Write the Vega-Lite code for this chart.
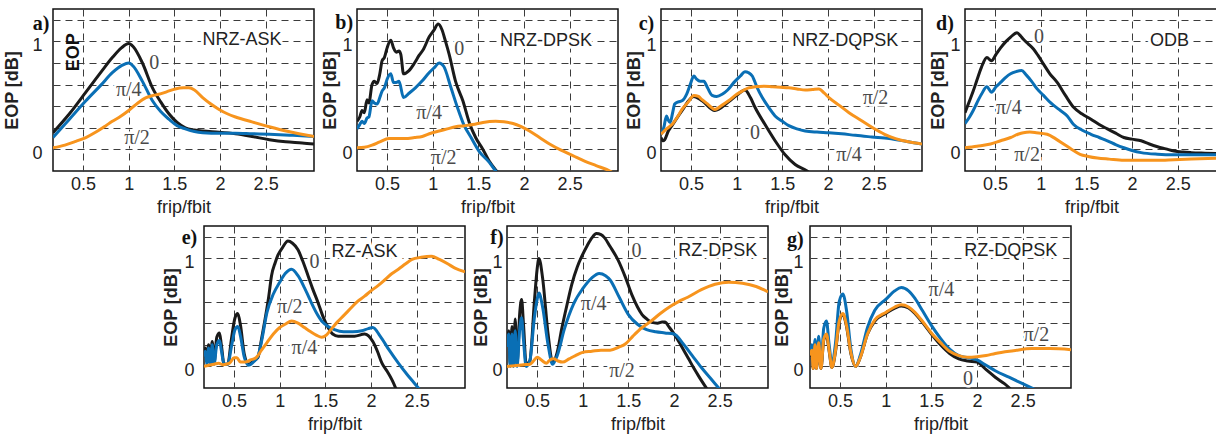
{
"$schema": "https://vega.github.io/schema/vega-lite/v6.json",
"padding": {"left": 3, "top": 8, "right": 0, "bottom": 0},
"spacing": 8,
"vconcat": [
{"spacing": 43, "bounds": "flush", "hconcat": [
{"width": 261, "height": 162,
 "encoding": {
  "x": {"field": "x", "type": "quantitative", "scale": {"domain": [0.17, 3.03], "nice": false, "zero": false}, "axis": {"title": "frip/fbit", "values": [0.5, 1, 1.5, 2, 2.5]}},
  "y": {"field": "y", "type": "quantitative", "scale": {"domain": [-0.2, 1.3], "nice": false, "zero": false}, "axis": {"title": "EOP [dB]", "values": [0, 0.2, 0.4, 0.6, 0.8, 1, 1.2], "labelPadding": 11, "titlePadding": 10}}},
 "layer": [
  {"data": {"name": "labels"}, "transform": [{"filter": "datum.p == 'a' && datum.k == 'name'"}], "mark": {"type": "text", "font": "Liberation Sans", "fontSize": 18, "color": "white", "stroke": "white", "strokeWidth": 6}, "encoding": {"text": {"field": "t"}}},
  {"data": {"name": "labels"}, "transform": [{"filter": "datum.p == 'a' && datum.k == 'curve'"}], "mark": {"type": "text", "font": "Liberation Serif", "fontSize": 20, "color": "white", "stroke": "white", "strokeWidth": 5}, "encoding": {"text": {"field": "t"}}},
  {"data": {"name": "a"}, "mark": {"type": "line", "clip": true, "strokeWidth": 3, "interpolate": "monotone", "strokeJoin": "round"}, "encoding": {"color": {"field": "s", "type": "nominal", "scale": {"domain": ["0", "π/4", "π/2"], "range": ["#1a1a1a", "#0a6fb5", "#f7941d"]}, "legend": null}}},
  {"data": {"name": "labels"}, "transform": [{"filter": "datum.p == 'a' && datum.k == 'name'"}], "mark": {"type": "text", "font": "Liberation Sans", "fontSize": 18, "color": "#222"}, "encoding": {"text": {"field": "t"}}},
  {"data": {"name": "labels"}, "transform": [{"filter": "datum.p == 'a' && datum.k == 'curve'"}], "mark": {"type": "text", "font": "Liberation Serif", "fontSize": 20, "color": "#4a4a4a"}, "encoding": {"text": {"field": "t"}}},
  {"data": {"name": "labels"}, "transform": [{"filter": "datum.p == 'a' && datum.k == 'panel'"}], "mark": {"type": "text", "font": "Liberation Serif", "fontSize": 20, "fontWeight": "bold", "color": "#111"}, "encoding": {"text": {"field": "t"}}},
  {"data": {"name": "labels"}, "transform": [{"filter": "datum.p == 'a' && datum.k == 'eop'"}], "mark": {"type": "text", "font": "Liberation Sans", "fontSize": 18, "fontWeight": "bold", "angle": 270, "color": "#111"}, "encoding": {"text": {"field": "t"}}}
 ]},
{"width": 261, "height": 162,
 "encoding": {
  "x": {"field": "x", "type": "quantitative", "scale": {"domain": [0.17, 3.03], "nice": false, "zero": false}, "axis": {"title": "frip/fbit", "values": [0.5, 1, 1.5, 2, 2.5]}},
  "y": {"field": "y", "type": "quantitative", "scale": {"domain": [-0.2, 1.3], "nice": false, "zero": false}, "axis": {"title": "EOP [dB]", "values": [0, 0.2, 0.4, 0.6, 0.8, 1, 1.2], "labelPadding": 5, "titlePadding": 2}}},
 "layer": [
  {"data": {"name": "labels"}, "transform": [{"filter": "datum.p == 'b' && datum.k == 'name'"}], "mark": {"type": "text", "font": "Liberation Sans", "fontSize": 18, "color": "white", "stroke": "white", "strokeWidth": 6}, "encoding": {"text": {"field": "t"}}},
  {"data": {"name": "labels"}, "transform": [{"filter": "datum.p == 'b' && datum.k == 'curve'"}], "mark": {"type": "text", "font": "Liberation Serif", "fontSize": 20, "color": "white", "stroke": "white", "strokeWidth": 5}, "encoding": {"text": {"field": "t"}}},
  {"data": {"name": "b"}, "mark": {"type": "line", "clip": true, "strokeWidth": 3, "interpolate": "monotone", "strokeJoin": "round"}, "encoding": {"color": {"field": "s", "type": "nominal", "scale": {"domain": ["0", "π/4", "π/2"], "range": ["#1a1a1a", "#0a6fb5", "#f7941d"]}, "legend": null}}},
  {"data": {"name": "labels"}, "transform": [{"filter": "datum.p == 'b' && datum.k == 'name'"}], "mark": {"type": "text", "font": "Liberation Sans", "fontSize": 18, "color": "#222"}, "encoding": {"text": {"field": "t"}}},
  {"data": {"name": "labels"}, "transform": [{"filter": "datum.p == 'b' && datum.k == 'curve'"}], "mark": {"type": "text", "font": "Liberation Serif", "fontSize": 20, "color": "#4a4a4a"}, "encoding": {"text": {"field": "t"}}},
  {"data": {"name": "labels"}, "transform": [{"filter": "datum.p == 'b' && datum.k == 'panel'"}], "mark": {"type": "text", "font": "Liberation Serif", "fontSize": 20, "fontWeight": "bold", "color": "#111"}, "encoding": {"text": {"field": "t"}}}
 ]},
{"width": 261, "height": 162,
 "encoding": {
  "x": {"field": "x", "type": "quantitative", "scale": {"domain": [0.17, 3.03], "nice": false, "zero": false}, "axis": {"title": "frip/fbit", "values": [0.5, 1, 1.5, 2, 2.5]}},
  "y": {"field": "y", "type": "quantitative", "scale": {"domain": [-0.2, 1.3], "nice": false, "zero": false}, "axis": {"title": "EOP [dB]", "values": [0, 0.2, 0.4, 0.6, 0.8, 1, 1.2], "labelPadding": 5, "titlePadding": 2}}},
 "layer": [
  {"data": {"name": "labels"}, "transform": [{"filter": "datum.p == 'c' && datum.k == 'name'"}], "mark": {"type": "text", "font": "Liberation Sans", "fontSize": 18, "color": "white", "stroke": "white", "strokeWidth": 6}, "encoding": {"text": {"field": "t"}}},
  {"data": {"name": "labels"}, "transform": [{"filter": "datum.p == 'c' && datum.k == 'curve'"}], "mark": {"type": "text", "font": "Liberation Serif", "fontSize": 20, "color": "white", "stroke": "white", "strokeWidth": 5}, "encoding": {"text": {"field": "t"}}},
  {"data": {"name": "c"}, "mark": {"type": "line", "clip": true, "strokeWidth": 3, "interpolate": "monotone", "strokeJoin": "round"}, "encoding": {"color": {"field": "s", "type": "nominal", "scale": {"domain": ["0", "π/4", "π/2"], "range": ["#1a1a1a", "#0a6fb5", "#f7941d"]}, "legend": null}}},
  {"data": {"name": "labels"}, "transform": [{"filter": "datum.p == 'c' && datum.k == 'name'"}], "mark": {"type": "text", "font": "Liberation Sans", "fontSize": 18, "color": "#222"}, "encoding": {"text": {"field": "t"}}},
  {"data": {"name": "labels"}, "transform": [{"filter": "datum.p == 'c' && datum.k == 'curve'"}], "mark": {"type": "text", "font": "Liberation Serif", "fontSize": 20, "color": "#4a4a4a"}, "encoding": {"text": {"field": "t"}}},
  {"data": {"name": "labels"}, "transform": [{"filter": "datum.p == 'c' && datum.k == 'panel'"}], "mark": {"type": "text", "font": "Liberation Serif", "fontSize": 20, "fontWeight": "bold", "color": "#111"}, "encoding": {"text": {"field": "t"}}}
 ]},
{"width": 253, "height": 162,
 "encoding": {
  "x": {"field": "x", "type": "quantitative", "scale": {"domain": [0.17, 2.942], "nice": false, "zero": false}, "axis": {"title": "frip/fbit", "values": [0.5, 1, 1.5, 2, 2.5]}},
  "y": {"field": "y", "type": "quantitative", "scale": {"domain": [-0.2, 1.3], "nice": false, "zero": false}, "axis": {"title": "EOP [dB]", "values": [0, 0.2, 0.4, 0.6, 0.8, 1, 1.2], "labelPadding": 5, "titlePadding": 2}}},
 "layer": [
  {"data": {"name": "labels"}, "transform": [{"filter": "datum.p == 'd' && datum.k == 'name'"}], "mark": {"type": "text", "font": "Liberation Sans", "fontSize": 18, "color": "white", "stroke": "white", "strokeWidth": 6}, "encoding": {"text": {"field": "t"}}},
  {"data": {"name": "labels"}, "transform": [{"filter": "datum.p == 'd' && datum.k == 'curve'"}], "mark": {"type": "text", "font": "Liberation Serif", "fontSize": 20, "color": "white", "stroke": "white", "strokeWidth": 5}, "encoding": {"text": {"field": "t"}}},
  {"data": {"name": "d"}, "mark": {"type": "line", "clip": true, "strokeWidth": 3, "interpolate": "monotone", "strokeJoin": "round"}, "encoding": {"color": {"field": "s", "type": "nominal", "scale": {"domain": ["0", "π/4", "π/2"], "range": ["#1a1a1a", "#0a6fb5", "#f7941d"]}, "legend": null}}},
  {"data": {"name": "labels"}, "transform": [{"filter": "datum.p == 'd' && datum.k == 'name'"}], "mark": {"type": "text", "font": "Liberation Sans", "fontSize": 18, "color": "#222"}, "encoding": {"text": {"field": "t"}}},
  {"data": {"name": "labels"}, "transform": [{"filter": "datum.p == 'd' && datum.k == 'curve'"}], "mark": {"type": "text", "font": "Liberation Serif", "fontSize": 20, "color": "#4a4a4a"}, "encoding": {"text": {"field": "t"}}},
  {"data": {"name": "labels"}, "transform": [{"filter": "datum.p == 'd' && datum.k == 'panel'"}], "mark": {"type": "text", "font": "Liberation Serif", "fontSize": 20, "fontWeight": "bold", "color": "#111"}, "encoding": {"text": {"field": "t"}}}
 ]}
]},
{"spacing": 42, "bounds": "flush", "hconcat": [
{"width": 109, "height": 162, "data": {"values": []}, "mark": {"type": "point", "opacity": 0}, "encoding": {}, "view": {"stroke": null}},
{"width": 261, "height": 162,
 "encoding": {
  "x": {"field": "x", "type": "quantitative", "scale": {"domain": [0.17, 3.03], "nice": false, "zero": false}, "axis": {"title": "frip/fbit", "values": [0.5, 1, 1.5, 2, 2.5]}},
  "y": {"field": "y", "type": "quantitative", "scale": {"domain": [-0.2, 1.3], "nice": false, "zero": false}, "axis": {"title": "EOP [dB]", "values": [0, 0.2, 0.4, 0.6, 0.8, 1, 1.2], "labelPadding": 10, "titlePadding": 3}}},
 "layer": [
  {"data": {"name": "labels"}, "transform": [{"filter": "datum.p == 'e' && datum.k == 'name'"}], "mark": {"type": "text", "font": "Liberation Sans", "fontSize": 18, "color": "white", "stroke": "white", "strokeWidth": 6}, "encoding": {"text": {"field": "t"}}},
  {"data": {"name": "labels"}, "transform": [{"filter": "datum.p == 'e' && datum.k == 'curve'"}], "mark": {"type": "text", "font": "Liberation Serif", "fontSize": 20, "color": "white", "stroke": "white", "strokeWidth": 5}, "encoding": {"text": {"field": "t"}}},
  {"data": {"name": "e"}, "mark": {"type": "line", "clip": true, "strokeWidth": 3, "interpolate": "monotone", "strokeJoin": "round"}, "encoding": {"color": {"field": "s", "type": "nominal", "scale": {"domain": ["0", "π/4", "π/2"], "range": ["#1a1a1a", "#0a6fb5", "#f7941d"]}, "legend": null}}},
  {"data": {"name": "labels"}, "transform": [{"filter": "datum.p == 'e' && datum.k == 'name'"}], "mark": {"type": "text", "font": "Liberation Sans", "fontSize": 18, "color": "#222"}, "encoding": {"text": {"field": "t"}}},
  {"data": {"name": "labels"}, "transform": [{"filter": "datum.p == 'e' && datum.k == 'curve'"}], "mark": {"type": "text", "font": "Liberation Serif", "fontSize": 20, "color": "#4a4a4a"}, "encoding": {"text": {"field": "t"}}},
  {"data": {"name": "labels"}, "transform": [{"filter": "datum.p == 'e' && datum.k == 'panel'"}], "mark": {"type": "text", "font": "Liberation Serif", "fontSize": 20, "fontWeight": "bold", "color": "#111"}, "encoding": {"text": {"field": "t"}}}
 ]},
{"width": 261, "height": 162,
 "encoding": {
  "x": {"field": "x", "type": "quantitative", "scale": {"domain": [0.17, 3.03], "nice": false, "zero": false}, "axis": {"title": "frip/fbit", "values": [0.5, 1, 1.5, 2, 2.5]}},
  "y": {"field": "y", "type": "quantitative", "scale": {"domain": [-0.2, 1.3], "nice": false, "zero": false}, "axis": {"title": "EOP [dB]", "values": [0, 0.2, 0.4, 0.6, 0.8, 1, 1.2], "labelPadding": 5, "titlePadding": 1}}},
 "layer": [
  {"data": {"name": "labels"}, "transform": [{"filter": "datum.p == 'f' && datum.k == 'name'"}], "mark": {"type": "text", "font": "Liberation Sans", "fontSize": 18, "color": "white", "stroke": "white", "strokeWidth": 6}, "encoding": {"text": {"field": "t"}}},
  {"data": {"name": "labels"}, "transform": [{"filter": "datum.p == 'f' && datum.k == 'curve'"}], "mark": {"type": "text", "font": "Liberation Serif", "fontSize": 20, "color": "white", "stroke": "white", "strokeWidth": 5}, "encoding": {"text": {"field": "t"}}},
  {"data": {"name": "f"}, "mark": {"type": "line", "clip": true, "strokeWidth": 3, "interpolate": "monotone", "strokeJoin": "round"}, "encoding": {"color": {"field": "s", "type": "nominal", "scale": {"domain": ["0", "π/4", "π/2"], "range": ["#1a1a1a", "#0a6fb5", "#f7941d"]}, "legend": null}}},
  {"data": {"name": "labels"}, "transform": [{"filter": "datum.p == 'f' && datum.k == 'name'"}], "mark": {"type": "text", "font": "Liberation Sans", "fontSize": 18, "color": "#222"}, "encoding": {"text": {"field": "t"}}},
  {"data": {"name": "labels"}, "transform": [{"filter": "datum.p == 'f' && datum.k == 'curve'"}], "mark": {"type": "text", "font": "Liberation Serif", "fontSize": 20, "color": "#4a4a4a"}, "encoding": {"text": {"field": "t"}}},
  {"data": {"name": "labels"}, "transform": [{"filter": "datum.p == 'f' && datum.k == 'panel'"}], "mark": {"type": "text", "font": "Liberation Serif", "fontSize": 20, "fontWeight": "bold", "color": "#111"}, "encoding": {"text": {"field": "t"}}}
 ]},
{"width": 261, "height": 162,
 "encoding": {
  "x": {"field": "x", "type": "quantitative", "scale": {"domain": [0.17, 3.03], "nice": false, "zero": false}, "axis": {"title": "frip/fbit", "values": [0.5, 1, 1.5, 2, 2.5]}},
  "y": {"field": "y", "type": "quantitative", "scale": {"domain": [-0.2, 1.3], "nice": false, "zero": false}, "axis": {"title": "EOP [dB]", "values": [0, 0.2, 0.4, 0.6, 0.8, 1, 1.2], "labelPadding": 7, "titlePadding": 1}}},
 "layer": [
  {"data": {"name": "labels"}, "transform": [{"filter": "datum.p == 'g' && datum.k == 'name'"}], "mark": {"type": "text", "font": "Liberation Sans", "fontSize": 18, "color": "white", "stroke": "white", "strokeWidth": 6}, "encoding": {"text": {"field": "t"}}},
  {"data": {"name": "labels"}, "transform": [{"filter": "datum.p == 'g' && datum.k == 'curve'"}], "mark": {"type": "text", "font": "Liberation Serif", "fontSize": 20, "color": "white", "stroke": "white", "strokeWidth": 5}, "encoding": {"text": {"field": "t"}}},
  {"data": {"name": "g"}, "mark": {"type": "line", "clip": true, "strokeWidth": 3, "interpolate": "monotone", "strokeJoin": "round"}, "encoding": {"color": {"field": "s", "type": "nominal", "scale": {"domain": ["0", "π/4", "π/2"], "range": ["#1a1a1a", "#0a6fb5", "#f7941d"]}, "legend": null}}},
  {"data": {"name": "labels"}, "transform": [{"filter": "datum.p == 'g' && datum.k == 'name'"}], "mark": {"type": "text", "font": "Liberation Sans", "fontSize": 18, "color": "#222"}, "encoding": {"text": {"field": "t"}}},
  {"data": {"name": "labels"}, "transform": [{"filter": "datum.p == 'g' && datum.k == 'curve'"}], "mark": {"type": "text", "font": "Liberation Serif", "fontSize": 20, "color": "#4a4a4a"}, "encoding": {"text": {"field": "t"}}},
  {"data": {"name": "labels"}, "transform": [{"filter": "datum.p == 'g' && datum.k == 'panel'"}], "mark": {"type": "text", "font": "Liberation Serif", "fontSize": 20, "fontWeight": "bold", "color": "#111"}, "encoding": {"text": {"field": "t"}}}
 ]}
]}
],
"datasets": {
"labels": [
 {"p": "a", "k": "name", "t": "NRZ-ASK", "x": 2.24, "y": 1.01},
 {"p": "a", "k": "curve", "t": "0", "x": 1.28, "y": 0.8},
 {"p": "a", "k": "curve", "t": "π/4", "x": 1.0, "y": 0.55},
 {"p": "a", "k": "curve", "t": "π/2", "x": 1.09, "y": 0.11},
 {"p": "a", "k": "panel", "t": "a)", "x": 0.04, "y": 1.16},
 {"p": "a", "k": "eop", "t": "EOP", "x": 0.4, "y": 0.9},
 {"p": "b", "k": "name", "t": "NRZ-DPSK", "x": 2.24, "y": 1.0},
 {"p": "b", "k": "curve", "t": "0", "x": 1.29, "y": 0.93},
 {"p": "b", "k": "curve", "t": "π/4", "x": 0.96, "y": 0.34},
 {"p": "b", "k": "curve", "t": "π/2", "x": 1.12, "y": -0.08},
 {"p": "b", "k": "panel", "t": "b)", "x": 0.03, "y": 1.17},
 {"p": "c", "k": "name", "t": "NRZ-DQPSK", "x": 2.19, "y": 1.0},
 {"p": "c", "k": "curve", "t": "0", "x": 1.2, "y": 0.15},
 {"p": "c", "k": "curve", "t": "π/4", "x": 2.23, "y": -0.05},
 {"p": "c", "k": "curve", "t": "π/2", "x": 2.52, "y": 0.48},
 {"p": "c", "k": "panel", "t": "c)", "x": 0.01, "y": 1.16},
 {"p": "d", "k": "name", "t": "ODB", "x": 2.41, "y": 1.0},
 {"p": "d", "k": "curve", "t": "0", "x": 0.98, "y": 1.04},
 {"p": "d", "k": "curve", "t": "π/4", "x": 0.65, "y": 0.38},
 {"p": "d", "k": "curve", "t": "π/2", "x": 0.85, "y": -0.05},
 {"p": "d", "k": "panel", "t": "d)", "x": -0.05, "y": 1.16},
 {"p": "e", "k": "name", "t": "RZ-ASK", "x": 1.93, "y": 1.06},
 {"p": "e", "k": "curve", "t": "0", "x": 1.38, "y": 0.97},
 {"p": "e", "k": "curve", "t": "π/2", "x": 1.11, "y": 0.55},
 {"p": "e", "k": "curve", "t": "π/4", "x": 1.27, "y": 0.17},
 {"p": "e", "k": "panel", "t": "e)", "x": 0.01, "y": 1.19},
 {"p": "f", "k": "name", "t": "RZ-DPSK", "x": 2.48, "y": 1.07},
 {"p": "f", "k": "curve", "t": "0", "x": 1.59, "y": 1.07},
 {"p": "f", "k": "curve", "t": "π/4", "x": 1.12, "y": 0.58},
 {"p": "f", "k": "curve", "t": "π/2", "x": 1.43, "y": -0.04},
 {"p": "f", "k": "panel", "t": "f)", "x": 0.06, "y": 1.19},
 {"p": "g", "k": "name", "t": "RZ-DQPSK", "x": 2.37, "y": 1.07},
 {"p": "g", "k": "curve", "t": "π/4", "x": 1.61, "y": 0.71},
 {"p": "g", "k": "curve", "t": "π/2", "x": 2.65, "y": 0.29},
 {"p": "g", "k": "curve", "t": "0", "x": 1.9, "y": -0.12},
 {"p": "g", "k": "panel", "t": "g)", "x": 0.01, "y": 1.17}
],
"a": [
 {"s":"0","x":0.17,"y":0.155},{"s":"0","x":0.35,"y":0.33},{"s":"0","x":0.53,"y":0.53},{"s":"0","x":0.7,"y":0.72},{"s":"0","x":0.82,"y":0.85},{"s":"0","x":0.92,"y":0.94},{"s":"0","x":1.0,"y":0.98},{"s":"0","x":1.05,"y":0.95},{"s":"0","x":1.15,"y":0.8},{"s":"0","x":1.26,"y":0.57},{"s":"0","x":1.35,"y":0.44},{"s":"0","x":1.44,"y":0.33},{"s":"0","x":1.53,"y":0.25},{"s":"0","x":1.62,"y":0.2},{"s":"0","x":1.72,"y":0.18},{"s":"0","x":1.81,"y":0.17},{"s":"0","x":1.99,"y":0.16},{"s":"0","x":2.17,"y":0.145},{"s":"0","x":2.35,"y":0.12},{"s":"0","x":2.54,"y":0.09},{"s":"0","x":2.72,"y":0.07},{"s":"0","x":2.9,"y":0.06},{"s":"0","x":3.03,"y":0.05},
 {"s":"π/4","x":0.17,"y":0.11},{"s":"π/4","x":0.35,"y":0.28},{"s":"π/4","x":0.53,"y":0.45},{"s":"π/4","x":0.7,"y":0.6},{"s":"π/4","x":0.82,"y":0.71},{"s":"π/4","x":0.93,"y":0.78},{"s":"π/4","x":1.0,"y":0.8},{"s":"π/4","x":1.05,"y":0.77},{"s":"π/4","x":1.15,"y":0.63},{"s":"π/4","x":1.26,"y":0.45},{"s":"π/4","x":1.35,"y":0.35},{"s":"π/4","x":1.44,"y":0.28},{"s":"π/4","x":1.53,"y":0.22},{"s":"π/4","x":1.62,"y":0.19},{"s":"π/4","x":1.72,"y":0.165},{"s":"π/4","x":1.81,"y":0.155},{"s":"π/4","x":2.0,"y":0.15},{"s":"π/4","x":2.17,"y":0.15},{"s":"π/4","x":2.35,"y":0.145},{"s":"π/4","x":2.54,"y":0.14},{"s":"π/4","x":2.8,"y":0.13},{"s":"π/4","x":3.03,"y":0.12},
 {"s":"π/2","x":0.17,"y":0.015},{"s":"π/2","x":0.3,"y":0.04},{"s":"π/2","x":0.42,"y":0.075},{"s":"π/2","x":0.53,"y":0.11},{"s":"π/2","x":0.65,"y":0.165},{"s":"π/2","x":0.75,"y":0.22},{"s":"π/2","x":0.82,"y":0.26},{"s":"π/2","x":0.9,"y":0.3},{"s":"π/2","x":1.0,"y":0.36},{"s":"π/2","x":1.1,"y":0.43},{"s":"π/2","x":1.19,"y":0.48},{"s":"π/2","x":1.27,"y":0.5},{"s":"π/2","x":1.33,"y":0.51},{"s":"π/2","x":1.42,"y":0.535},{"s":"π/2","x":1.51,"y":0.56},{"s":"π/2","x":1.6,"y":0.57},{"s":"π/2","x":1.66,"y":0.57},{"s":"π/2","x":1.72,"y":0.55},{"s":"π/2","x":1.81,"y":0.48},{"s":"π/2","x":1.9,"y":0.42},{"s":"π/2","x":1.99,"y":0.37},{"s":"π/2","x":2.08,"y":0.33},{"s":"π/2","x":2.17,"y":0.3},{"s":"π/2","x":2.35,"y":0.255},{"s":"π/2","x":2.54,"y":0.21},{"s":"π/2","x":2.75,"y":0.165},{"s":"π/2","x":3.03,"y":0.12}
],
"b": [
 {"s":"0","x":0.17,"y":0.26},{"s":"0","x":0.2,"y":0.3},{"s":"0","x":0.225,"y":0.36},{"s":"0","x":0.25,"y":0.34},{"s":"0","x":0.28,"y":0.46},{"s":"0","x":0.3,"y":0.43},{"s":"0","x":0.335,"y":0.6},{"s":"0","x":0.36,"y":0.63},{"s":"0","x":0.39,"y":0.61},{"s":"0","x":0.42,"y":0.7},{"s":"0","x":0.445,"y":0.82},{"s":"0","x":0.47,"y":0.85},{"s":"0","x":0.5,"y":0.94},{"s":"0","x":0.54,"y":1.01},{"s":"0","x":0.57,"y":0.94},{"s":"0","x":0.6,"y":0.9},{"s":"0","x":0.63,"y":0.91},{"s":"0","x":0.65,"y":0.88},{"s":"0","x":0.68,"y":0.7},{"s":"0","x":0.74,"y":0.73},{"s":"0","x":0.8,"y":0.8},{"s":"0","x":0.85,"y":0.87},{"s":"0","x":0.9,"y":0.93},{"s":"0","x":0.96,"y":1.04},{"s":"0","x":1.01,"y":1.1},{"s":"0","x":1.06,"y":1.16},{"s":"0","x":1.1,"y":1.11},{"s":"0","x":1.14,"y":1.0},{"s":"0","x":1.18,"y":0.88},{"s":"0","x":1.25,"y":0.63},{"s":"0","x":1.33,"y":0.45},{"s":"0","x":1.4,"y":0.25},{"s":"0","x":1.47,"y":0.11},{"s":"0","x":1.55,"y":0.0},{"s":"0","x":1.62,"y":-0.11},{"s":"0","x":1.69,"y":-0.19},{"s":"0","x":1.72,"y":-0.22},
 {"s":"π/4","x":0.17,"y":0.19},{"s":"π/4","x":0.2,"y":0.23},{"s":"π/4","x":0.225,"y":0.26},{"s":"π/4","x":0.25,"y":0.24},{"s":"π/4","x":0.28,"y":0.29},{"s":"π/4","x":0.3,"y":0.3},{"s":"π/4","x":0.335,"y":0.45},{"s":"π/4","x":0.36,"y":0.43},{"s":"π/4","x":0.39,"y":0.42},{"s":"π/4","x":0.42,"y":0.48},{"s":"π/4","x":0.445,"y":0.54},{"s":"π/4","x":0.47,"y":0.57},{"s":"π/4","x":0.5,"y":0.65},{"s":"π/4","x":0.54,"y":0.7},{"s":"π/4","x":0.57,"y":0.62},{"s":"π/4","x":0.6,"y":0.62},{"s":"π/4","x":0.63,"y":0.63},{"s":"π/4","x":0.68,"y":0.48},{"s":"π/4","x":0.74,"y":0.52},{"s":"π/4","x":0.81,"y":0.57},{"s":"π/4","x":0.88,"y":0.63},{"s":"π/4","x":0.96,"y":0.71},{"s":"π/4","x":1.02,"y":0.76},{"s":"π/4","x":1.07,"y":0.8},{"s":"π/4","x":1.12,"y":0.77},{"s":"π/4","x":1.2,"y":0.57},{"s":"π/4","x":1.27,"y":0.39},{"s":"π/4","x":1.34,"y":0.23},{"s":"π/4","x":1.42,"y":0.11},{"s":"π/4","x":1.51,"y":-0.02},{"s":"π/4","x":1.62,"y":-0.12},{"s":"π/4","x":1.69,"y":-0.2},{"s":"π/4","x":1.72,"y":-0.23},
 {"s":"π/2","x":0.17,"y":0.015},{"s":"π/2","x":0.25,"y":0.02},{"s":"π/2","x":0.335,"y":0.04},{"s":"π/2","x":0.42,"y":0.07},{"s":"π/2","x":0.52,"y":0.1},{"s":"π/2","x":0.6,"y":0.1},{"s":"π/2","x":0.7,"y":0.1},{"s":"π/2","x":0.8,"y":0.11},{"s":"π/2","x":0.885,"y":0.12},{"s":"π/2","x":0.98,"y":0.15},{"s":"π/2","x":1.07,"y":0.17},{"s":"π/2","x":1.16,"y":0.19},{"s":"π/2","x":1.25,"y":0.21},{"s":"π/2","x":1.35,"y":0.22},{"s":"π/2","x":1.44,"y":0.23},{"s":"π/2","x":1.55,"y":0.25},{"s":"π/2","x":1.69,"y":0.26},{"s":"π/2","x":1.78,"y":0.255},{"s":"π/2","x":1.88,"y":0.24},{"s":"π/2","x":1.97,"y":0.21},{"s":"π/2","x":2.06,"y":0.17},{"s":"π/2","x":2.17,"y":0.11},{"s":"π/2","x":2.28,"y":0.05},{"s":"π/2","x":2.4,"y":-0.005},{"s":"π/2","x":2.54,"y":-0.06},{"s":"π/2","x":2.67,"y":-0.11},{"s":"π/2","x":2.79,"y":-0.15},{"s":"π/2","x":2.94,"y":-0.2},{"s":"π/2","x":2.98,"y":-0.22}
],
"c": [
 {"s":"0","x":0.17,"y":0.11},{"s":"0","x":0.19,"y":0.08},{"s":"0","x":0.21,"y":0.09},{"s":"0","x":0.25,"y":0.17},{"s":"0","x":0.29,"y":0.22},{"s":"0","x":0.4,"y":0.36},{"s":"0","x":0.53,"y":0.49},{"s":"0","x":0.62,"y":0.45},{"s":"0","x":0.76,"y":0.36},{"s":"0","x":0.91,"y":0.44},{"s":"0","x":1.0,"y":0.5},{"s":"0","x":1.09,"y":0.55},{"s":"0","x":1.15,"y":0.48},{"s":"0","x":1.2,"y":0.39},{"s":"0","x":1.31,"y":0.23},{"s":"0","x":1.42,"y":0.08},{"s":"0","x":1.53,"y":-0.05},{"s":"0","x":1.64,"y":-0.14},{"s":"0","x":1.77,"y":-0.2},{"s":"0","x":1.8,"y":-0.22},
 {"s":"π/4","x":0.17,"y":0.14},{"s":"π/4","x":0.2,"y":0.2},{"s":"π/4","x":0.23,"y":0.31},{"s":"π/4","x":0.25,"y":0.27},{"s":"π/4","x":0.27,"y":0.25},{"s":"π/4","x":0.3,"y":0.35},{"s":"π/4","x":0.32,"y":0.42},{"s":"π/4","x":0.36,"y":0.44},{"s":"π/4","x":0.4,"y":0.45},{"s":"π/4","x":0.45,"y":0.51},{"s":"π/4","x":0.49,"y":0.6},{"s":"π/4","x":0.53,"y":0.68},{"s":"π/4","x":0.56,"y":0.65},{"s":"π/4","x":0.6,"y":0.63},{"s":"π/4","x":0.64,"y":0.63},{"s":"π/4","x":0.68,"y":0.57},{"s":"π/4","x":0.73,"y":0.5},{"s":"π/4","x":0.78,"y":0.49},{"s":"π/4","x":0.84,"y":0.51},{"s":"π/4","x":0.9,"y":0.55},{"s":"π/4","x":0.98,"y":0.63},{"s":"π/4","x":1.04,"y":0.68},{"s":"π/4","x":1.09,"y":0.72},{"s":"π/4","x":1.13,"y":0.71},{"s":"π/4","x":1.17,"y":0.68},{"s":"π/4","x":1.22,"y":0.58},{"s":"π/4","x":1.28,"y":0.48},{"s":"π/4","x":1.35,"y":0.39},{"s":"π/4","x":1.42,"y":0.31},{"s":"π/4","x":1.5,"y":0.26},{"s":"π/4","x":1.57,"y":0.22},{"s":"π/4","x":1.66,"y":0.19},{"s":"π/4","x":1.75,"y":0.17},{"s":"π/4","x":1.88,"y":0.16},{"s":"π/4","x":2.01,"y":0.155},{"s":"π/4","x":2.15,"y":0.145},{"s":"π/4","x":2.3,"y":0.13},{"s":"π/4","x":2.48,"y":0.115},{"s":"π/4","x":2.67,"y":0.1},{"s":"π/4","x":2.85,"y":0.075},{"s":"π/4","x":3.03,"y":0.05},
 {"s":"π/2","x":0.17,"y":0.14},{"s":"π/2","x":0.23,"y":0.19},{"s":"π/2","x":0.29,"y":0.23},{"s":"π/2","x":0.35,"y":0.3},{"s":"π/2","x":0.4,"y":0.37},{"s":"π/2","x":0.47,"y":0.44},{"s":"π/2","x":0.53,"y":0.5},{"s":"π/2","x":0.58,"y":0.49},{"s":"π/2","x":0.62,"y":0.46},{"s":"π/2","x":0.68,"y":0.42},{"s":"π/2","x":0.76,"y":0.37},{"s":"π/2","x":0.84,"y":0.41},{"s":"π/2","x":0.91,"y":0.45},{"s":"π/2","x":1.0,"y":0.51},{"s":"π/2","x":1.06,"y":0.54},{"s":"π/2","x":1.13,"y":0.57},{"s":"π/2","x":1.2,"y":0.58},{"s":"π/2","x":1.3,"y":0.585},{"s":"π/2","x":1.39,"y":0.58},{"s":"π/2","x":1.48,"y":0.575},{"s":"π/2","x":1.57,"y":0.57},{"s":"π/2","x":1.66,"y":0.56},{"s":"π/2","x":1.75,"y":0.55},{"s":"π/2","x":1.83,"y":0.555},{"s":"π/2","x":1.9,"y":0.56},{"s":"π/2","x":1.96,"y":0.52},{"s":"π/2","x":2.01,"y":0.48},{"s":"π/2","x":2.12,"y":0.41},{"s":"π/2","x":2.23,"y":0.34},{"s":"π/2","x":2.36,"y":0.27},{"s":"π/2","x":2.49,"y":0.2},{"s":"π/2","x":2.62,"y":0.14},{"s":"π/2","x":2.74,"y":0.1},{"s":"π/2","x":2.88,"y":0.07},{"s":"π/2","x":3.03,"y":0.05}
],
"d": [
 {"s":"0","x":0.17,"y":0.34},{"s":"0","x":0.22,"y":0.45},{"s":"0","x":0.26,"y":0.54},{"s":"0","x":0.3,"y":0.64},{"s":"0","x":0.35,"y":0.76},{"s":"0","x":0.41,"y":0.85},{"s":"0","x":0.46,"y":0.82},{"s":"0","x":0.51,"y":0.88},{"s":"0","x":0.56,"y":0.94},{"s":"0","x":0.62,"y":1.0},{"s":"0","x":0.67,"y":1.04},{"s":"0","x":0.74,"y":1.08},{"s":"0","x":0.78,"y":1.05},{"s":"0","x":0.81,"y":1.02},{"s":"0","x":0.86,"y":0.98},{"s":"0","x":0.92,"y":0.93},{"s":"0","x":0.97,"y":0.87},{"s":"0","x":1.03,"y":0.79},{"s":"0","x":1.1,"y":0.7},{"s":"0","x":1.18,"y":0.62},{"s":"0","x":1.27,"y":0.5},{"s":"0","x":1.36,"y":0.39},{"s":"0","x":1.45,"y":0.33},{"s":"0","x":1.55,"y":0.28},{"s":"0","x":1.64,"y":0.23},{"s":"0","x":1.73,"y":0.19},{"s":"0","x":1.82,"y":0.15},{"s":"0","x":1.91,"y":0.11},{"s":"0","x":2.0,"y":0.095},{"s":"0","x":2.1,"y":0.08},{"s":"0","x":2.19,"y":0.05},{"s":"0","x":2.28,"y":0.025},{"s":"0","x":2.37,"y":0.005},{"s":"0","x":2.46,"y":-0.015},{"s":"0","x":2.56,"y":-0.025},{"s":"0","x":2.65,"y":-0.03},{"s":"0","x":2.8,"y":-0.035},{"s":"0","x":2.97,"y":-0.04},
 {"s":"π/4","x":0.17,"y":0.24},{"s":"π/4","x":0.22,"y":0.3},{"s":"π/4","x":0.26,"y":0.36},{"s":"π/4","x":0.3,"y":0.43},{"s":"π/4","x":0.35,"y":0.51},{"s":"π/4","x":0.41,"y":0.58},{"s":"π/4","x":0.46,"y":0.53},{"s":"π/4","x":0.51,"y":0.58},{"s":"π/4","x":0.56,"y":0.62},{"s":"π/4","x":0.62,"y":0.67},{"s":"π/4","x":0.67,"y":0.7},{"s":"π/4","x":0.73,"y":0.72},{"s":"π/4","x":0.79,"y":0.73},{"s":"π/4","x":0.84,"y":0.69},{"s":"π/4","x":0.9,"y":0.63},{"s":"π/4","x":0.96,"y":0.56},{"s":"π/4","x":1.03,"y":0.5},{"s":"π/4","x":1.11,"y":0.43},{"s":"π/4","x":1.2,"y":0.37},{"s":"π/4","x":1.29,"y":0.31},{"s":"π/4","x":1.36,"y":0.23},{"s":"π/4","x":1.45,"y":0.18},{"s":"π/4","x":1.55,"y":0.14},{"s":"π/4","x":1.64,"y":0.11},{"s":"π/4","x":1.73,"y":0.08},{"s":"π/4","x":1.82,"y":0.045},{"s":"π/4","x":1.91,"y":0.015},{"s":"π/4","x":2.0,"y":-0.01},{"s":"π/4","x":2.1,"y":-0.03},{"s":"π/4","x":2.28,"y":-0.045},{"s":"π/4","x":2.46,"y":-0.05},{"s":"π/4","x":2.7,"y":-0.05},{"s":"π/4","x":2.97,"y":-0.05},
 {"s":"π/2","x":0.17,"y":0.015},{"s":"π/2","x":0.3,"y":0.03},{"s":"π/2","x":0.45,"y":0.05},{"s":"π/2","x":0.56,"y":0.08},{"s":"π/2","x":0.67,"y":0.11},{"s":"π/2","x":0.75,"y":0.14},{"s":"π/2","x":0.81,"y":0.155},{"s":"π/2","x":0.88,"y":0.16},{"s":"π/2","x":0.95,"y":0.155},{"s":"π/2","x":1.07,"y":0.14},{"s":"π/2","x":1.16,"y":0.1},{"s":"π/2","x":1.25,"y":0.05},{"s":"π/2","x":1.34,"y":0.0},{"s":"π/2","x":1.43,"y":-0.045},{"s":"π/2","x":1.52,"y":-0.065},{"s":"π/2","x":1.62,"y":-0.08},{"s":"π/2","x":1.75,"y":-0.09},{"s":"π/2","x":1.91,"y":-0.1},{"s":"π/2","x":2.1,"y":-0.1},{"s":"π/2","x":2.28,"y":-0.1},{"s":"π/2","x":2.46,"y":-0.095},{"s":"π/2","x":2.65,"y":-0.09},{"s":"π/2","x":2.97,"y":-0.08}
],
"e": [
 {"s":"0","x":0.17,"y":0.12},{"s":"0","x":0.185,"y":0.17},{"s":"0","x":0.2,"y":0.05},{"s":"0","x":0.22,"y":0.2},{"s":"0","x":0.24,"y":0.04},{"s":"0","x":0.26,"y":0.23},{"s":"0","x":0.28,"y":0.03},{"s":"0","x":0.31,"y":0.27},{"s":"0","x":0.34,"y":0.31},{"s":"0","x":0.36,"y":0.2},{"s":"0","x":0.39,"y":0.02},{"s":"0","x":0.43,"y":0.02},{"s":"0","x":0.47,"y":0.25},{"s":"0","x":0.51,"y":0.45},{"s":"0","x":0.54,"y":0.49},{"s":"0","x":0.57,"y":0.38},{"s":"0","x":0.61,"y":0.12},{"s":"0","x":0.66,"y":0.02},{"s":"0","x":0.71,"y":0.05},{"s":"0","x":0.76,"y":0.08},{"s":"0","x":0.8,"y":0.25},{"s":"0","x":0.84,"y":0.44},{"s":"0","x":0.88,"y":0.65},{"s":"0","x":0.91,"y":0.84},{"s":"0","x":0.95,"y":0.96},{"s":"0","x":0.98,"y":1.03},{"s":"0","x":1.03,"y":1.1},{"s":"0","x":1.09,"y":1.16},{"s":"0","x":1.14,"y":1.14},{"s":"0","x":1.2,"y":1.08},{"s":"0","x":1.25,"y":0.98},{"s":"0","x":1.31,"y":0.84},{"s":"0","x":1.36,"y":0.72},{"s":"0","x":1.42,"y":0.59},{"s":"0","x":1.47,"y":0.47},{"s":"0","x":1.53,"y":0.36},{"s":"0","x":1.58,"y":0.3},{"s":"0","x":1.64,"y":0.28},{"s":"0","x":1.73,"y":0.28},{"s":"0","x":1.82,"y":0.28},{"s":"0","x":1.93,"y":0.3},{"s":"0","x":2.02,"y":0.23},{"s":"0","x":2.07,"y":0.14},{"s":"0","x":2.12,"y":0.03},{"s":"0","x":2.18,"y":-0.05},{"s":"0","x":2.23,"y":-0.125},{"s":"0","x":2.28,"y":-0.22},
 {"s":"π/4","x":0.17,"y":0.09},{"s":"π/4","x":0.185,"y":0.14},{"s":"π/4","x":0.2,"y":0.02},{"s":"π/4","x":0.22,"y":0.17},{"s":"π/4","x":0.24,"y":0.02},{"s":"π/4","x":0.26,"y":0.2},{"s":"π/4","x":0.28,"y":0.02},{"s":"π/4","x":0.31,"y":0.2},{"s":"π/4","x":0.34,"y":0.24},{"s":"π/4","x":0.36,"y":0.15},{"s":"π/4","x":0.39,"y":0.02},{"s":"π/4","x":0.43,"y":0.02},{"s":"π/4","x":0.47,"y":0.18},{"s":"π/4","x":0.51,"y":0.34},{"s":"π/4","x":0.54,"y":0.37},{"s":"π/4","x":0.57,"y":0.28},{"s":"π/4","x":0.61,"y":0.09},{"s":"π/4","x":0.66,"y":0.01},{"s":"π/4","x":0.71,"y":0.04},{"s":"π/4","x":0.76,"y":0.09},{"s":"π/4","x":0.8,"y":0.23},{"s":"π/4","x":0.86,"y":0.5},{"s":"π/4","x":0.93,"y":0.67},{"s":"π/4","x":1.0,"y":0.78},{"s":"π/4","x":1.06,"y":0.86},{"s":"π/4","x":1.13,"y":0.9},{"s":"π/4","x":1.2,"y":0.84},{"s":"π/4","x":1.27,"y":0.73},{"s":"π/4","x":1.33,"y":0.62},{"s":"π/4","x":1.4,"y":0.5},{"s":"π/4","x":1.47,"y":0.41},{"s":"π/4","x":1.53,"y":0.37},{"s":"π/4","x":1.6,"y":0.34},{"s":"π/4","x":1.7,"y":0.32},{"s":"π/4","x":1.8,"y":0.32},{"s":"π/4","x":1.9,"y":0.33},{"s":"π/4","x":1.97,"y":0.35},{"s":"π/4","x":2.02,"y":0.36},{"s":"π/4","x":2.1,"y":0.28},{"s":"π/4","x":2.2,"y":0.15},{"s":"π/4","x":2.3,"y":0.03},{"s":"π/4","x":2.4,"y":-0.08},{"s":"π/4","x":2.48,"y":-0.16},{"s":"π/4","x":2.54,"y":-0.22},
 {"s":"π/2","x":0.17,"y":0.0},{"s":"π/2","x":0.22,"y":0.01},{"s":"π/2","x":0.28,"y":0.02},{"s":"π/2","x":0.33,"y":0.03},{"s":"π/2","x":0.38,"y":0.015},{"s":"π/2","x":0.45,"y":0.03},{"s":"π/2","x":0.5,"y":0.08},{"s":"π/2","x":0.53,"y":0.08},{"s":"π/2","x":0.57,"y":0.04},{"s":"π/2","x":0.62,"y":0.04},{"s":"π/2","x":0.68,"y":0.06},{"s":"π/2","x":0.74,"y":0.08},{"s":"π/2","x":0.8,"y":0.15},{"s":"π/2","x":0.86,"y":0.22},{"s":"π/2","x":0.93,"y":0.3},{"s":"π/2","x":1.0,"y":0.36},{"s":"π/2","x":1.06,"y":0.39},{"s":"π/2","x":1.13,"y":0.42},{"s":"π/2","x":1.2,"y":0.4},{"s":"π/2","x":1.27,"y":0.36},{"s":"π/2","x":1.34,"y":0.32},{"s":"π/2","x":1.4,"y":0.29},{"s":"π/2","x":1.46,"y":0.27},{"s":"π/2","x":1.51,"y":0.29},{"s":"π/2","x":1.56,"y":0.34},{"s":"π/2","x":1.63,"y":0.41},{"s":"π/2","x":1.7,"y":0.47},{"s":"π/2","x":1.78,"y":0.54},{"s":"π/2","x":1.85,"y":0.6},{"s":"π/2","x":1.93,"y":0.65},{"s":"π/2","x":2.0,"y":0.7},{"s":"π/2","x":2.08,"y":0.75},{"s":"π/2","x":2.15,"y":0.8},{"s":"π/2","x":2.23,"y":0.86},{"s":"π/2","x":2.3,"y":0.9},{"s":"π/2","x":2.38,"y":0.95},{"s":"π/2","x":2.45,"y":0.99},{"s":"π/2","x":2.55,"y":1.01},{"s":"π/2","x":2.66,"y":1.02},{"s":"π/2","x":2.75,"y":0.99},{"s":"π/2","x":2.84,"y":0.95},{"s":"π/2","x":2.92,"y":0.91},{"s":"π/2","x":3.03,"y":0.875}
],
"f": [
 {"s":"0","x":0.17,"y":0.18},{"s":"0","x":0.19,"y":0.33},{"s":"0","x":0.205,"y":0.02},{"s":"0","x":0.225,"y":0.37},{"s":"0","x":0.24,"y":0.02},{"s":"0","x":0.26,"y":0.44},{"s":"0","x":0.28,"y":0.02},{"s":"0","x":0.31,"y":0.5},{"s":"0","x":0.33,"y":0.62},{"s":"0","x":0.35,"y":0.4},{"s":"0","x":0.38,"y":0.02},{"s":"0","x":0.42,"y":0.05},{"s":"0","x":0.47,"y":0.6},{"s":"0","x":0.5,"y":0.9},{"s":"0","x":0.52,"y":1.0},{"s":"0","x":0.56,"y":0.82},{"s":"0","x":0.62,"y":0.3},{"s":"0","x":0.67,"y":0.04},{"s":"0","x":0.72,"y":0.13},{"s":"0","x":0.77,"y":0.35},{"s":"0","x":0.83,"y":0.58},{"s":"0","x":0.88,"y":0.76},{"s":"0","x":0.94,"y":0.92},{"s":"0","x":0.99,"y":1.02},{"s":"0","x":1.05,"y":1.12},{"s":"0","x":1.1,"y":1.19},{"s":"0","x":1.15,"y":1.23},{"s":"0","x":1.2,"y":1.22},{"s":"0","x":1.24,"y":1.19},{"s":"0","x":1.3,"y":1.11},{"s":"0","x":1.39,"y":0.98},{"s":"0","x":1.47,"y":0.82},{"s":"0","x":1.54,"y":0.66},{"s":"0","x":1.6,"y":0.55},{"s":"0","x":1.65,"y":0.48},{"s":"0","x":1.7,"y":0.44},{"s":"0","x":1.75,"y":0.41},{"s":"0","x":1.82,"y":0.4},{"s":"0","x":1.87,"y":0.41},{"s":"0","x":1.9,"y":0.41},{"s":"0","x":1.95,"y":0.36},{"s":"0","x":2.01,"y":0.29},{"s":"0","x":2.08,"y":0.19},{"s":"0","x":2.16,"y":0.07},{"s":"0","x":2.22,"y":-0.02},{"s":"0","x":2.27,"y":-0.09},{"s":"0","x":2.37,"y":-0.22},
 {"s":"π/4","x":0.17,"y":0.18},{"s":"π/4","x":0.19,"y":0.3},{"s":"π/4","x":0.205,"y":0.0},{"s":"π/4","x":0.225,"y":0.3},{"s":"π/4","x":0.24,"y":0.0},{"s":"π/4","x":0.26,"y":0.33},{"s":"π/4","x":0.28,"y":0.0},{"s":"π/4","x":0.31,"y":0.35},{"s":"π/4","x":0.33,"y":0.45},{"s":"π/4","x":0.35,"y":0.25},{"s":"π/4","x":0.38,"y":0.0},{"s":"π/4","x":0.42,"y":0.05},{"s":"π/4","x":0.47,"y":0.45},{"s":"π/4","x":0.5,"y":0.62},{"s":"π/4","x":0.52,"y":0.68},{"s":"π/4","x":0.56,"y":0.55},{"s":"π/4","x":0.62,"y":0.2},{"s":"π/4","x":0.67,"y":0.02},{"s":"π/4","x":0.72,"y":0.1},{"s":"π/4","x":0.8,"y":0.35},{"s":"π/4","x":0.9,"y":0.58},{"s":"π/4","x":1.0,"y":0.72},{"s":"π/4","x":1.1,"y":0.82},{"s":"π/4","x":1.18,"y":0.86},{"s":"π/4","x":1.25,"y":0.84},{"s":"π/4","x":1.3,"y":0.8},{"s":"π/4","x":1.4,"y":0.64},{"s":"π/4","x":1.5,"y":0.48},{"s":"π/4","x":1.6,"y":0.39},{"s":"π/4","x":1.7,"y":0.34},{"s":"π/4","x":1.8,"y":0.32},{"s":"π/4","x":1.9,"y":0.31},{"s":"π/4","x":2.0,"y":0.3},{"s":"π/4","x":2.1,"y":0.21},{"s":"π/4","x":2.2,"y":0.1},{"s":"π/4","x":2.3,"y":-0.01},{"s":"π/4","x":2.4,"y":-0.11},{"s":"π/4","x":2.5,"y":-0.21},
 {"s":"π/2","x":0.17,"y":0.0},{"s":"π/2","x":0.25,"y":0.005},{"s":"π/2","x":0.35,"y":0.015},{"s":"π/2","x":0.42,"y":0.02},{"s":"π/2","x":0.46,"y":0.05},{"s":"π/2","x":0.5,"y":0.085},{"s":"π/2","x":0.53,"y":0.07},{"s":"π/2","x":0.56,"y":0.05},{"s":"π/2","x":0.6,"y":0.03},{"s":"π/2","x":0.64,"y":0.06},{"s":"π/2","x":0.68,"y":0.07},{"s":"π/2","x":0.73,"y":0.05},{"s":"π/2","x":0.78,"y":0.04},{"s":"π/2","x":0.85,"y":0.07},{"s":"π/2","x":0.92,"y":0.1},{"s":"π/2","x":1.0,"y":0.13},{"s":"π/2","x":1.1,"y":0.14},{"s":"π/2","x":1.2,"y":0.15},{"s":"π/2","x":1.3,"y":0.15},{"s":"π/2","x":1.4,"y":0.18},{"s":"π/2","x":1.47,"y":0.21},{"s":"π/2","x":1.55,"y":0.28},{"s":"π/2","x":1.65,"y":0.36},{"s":"π/2","x":1.75,"y":0.42},{"s":"π/2","x":1.85,"y":0.49},{"s":"π/2","x":1.95,"y":0.55},{"s":"π/2","x":2.05,"y":0.6},{"s":"π/2","x":2.15,"y":0.64},{"s":"π/2","x":2.3,"y":0.71},{"s":"π/2","x":2.45,"y":0.76},{"s":"π/2","x":2.6,"y":0.78},{"s":"π/2","x":2.75,"y":0.77},{"s":"π/2","x":2.9,"y":0.74},{"s":"π/2","x":3.03,"y":0.69}
],
"g": [
 {"s":"0","x":0.17,"y":0.09},{"s":"0","x":0.19,"y":0.14},{"s":"0","x":0.205,"y":-0.02},{"s":"0","x":0.225,"y":0.19},{"s":"0","x":0.24,"y":-0.02},{"s":"0","x":0.265,"y":0.21},{"s":"0","x":0.29,"y":-0.02},{"s":"0","x":0.32,"y":0.24},{"s":"0","x":0.35,"y":0.29},{"s":"0","x":0.38,"y":0.14},{"s":"0","x":0.41,"y":-0.01},{"s":"0","x":0.45,"y":0.14},{"s":"0","x":0.49,"y":0.41},{"s":"0","x":0.53,"y":0.48},{"s":"0","x":0.57,"y":0.37},{"s":"0","x":0.62,"y":0.11},{"s":"0","x":0.67,"y":0.0},{"s":"0","x":0.72,"y":0.08},{"s":"0","x":0.8,"y":0.3},{"s":"0","x":0.88,"y":0.42},{"s":"0","x":1.0,"y":0.49},{"s":"0","x":1.1,"y":0.54},{"s":"0","x":1.17,"y":0.56},{"s":"0","x":1.25,"y":0.54},{"s":"0","x":1.32,"y":0.49},{"s":"0","x":1.4,"y":0.41},{"s":"0","x":1.5,"y":0.3},{"s":"0","x":1.6,"y":0.2},{"s":"0","x":1.7,"y":0.12},{"s":"0","x":1.8,"y":0.07},{"s":"0","x":1.9,"y":0.05},{"s":"0","x":2.0,"y":0.04},{"s":"0","x":2.1,"y":-0.03},{"s":"0","x":2.2,"y":-0.1},{"s":"0","x":2.3,"y":-0.16},{"s":"0","x":2.38,"y":-0.22},
 {"s":"π/4","x":0.17,"y":0.15},{"s":"π/4","x":0.19,"y":0.2},{"s":"π/4","x":0.205,"y":0.0},{"s":"π/4","x":0.225,"y":0.25},{"s":"π/4","x":0.24,"y":0.0},{"s":"π/4","x":0.265,"y":0.28},{"s":"π/4","x":0.29,"y":0.0},{"s":"π/4","x":0.32,"y":0.35},{"s":"π/4","x":0.35,"y":0.42},{"s":"π/4","x":0.38,"y":0.2},{"s":"π/4","x":0.41,"y":0.02},{"s":"π/4","x":0.45,"y":0.22},{"s":"π/4","x":0.49,"y":0.6},{"s":"π/4","x":0.53,"y":0.67},{"s":"π/4","x":0.57,"y":0.52},{"s":"π/4","x":0.62,"y":0.15},{"s":"π/4","x":0.67,"y":0.0},{"s":"π/4","x":0.72,"y":0.1},{"s":"π/4","x":0.8,"y":0.36},{"s":"π/4","x":0.88,"y":0.52},{"s":"π/4","x":1.0,"y":0.62},{"s":"π/4","x":1.1,"y":0.7},{"s":"π/4","x":1.17,"y":0.73},{"s":"π/4","x":1.25,"y":0.7},{"s":"π/4","x":1.32,"y":0.63},{"s":"π/4","x":1.4,"y":0.52},{"s":"π/4","x":1.5,"y":0.38},{"s":"π/4","x":1.6,"y":0.26},{"s":"π/4","x":1.7,"y":0.16},{"s":"π/4","x":1.8,"y":0.1},{"s":"π/4","x":1.9,"y":0.08},{"s":"π/4","x":2.0,"y":0.06},{"s":"π/4","x":2.1,"y":0.01},{"s":"π/4","x":2.2,"y":-0.04},{"s":"π/4","x":2.35,"y":-0.1},{"s":"π/4","x":2.5,"y":-0.16},{"s":"π/4","x":2.65,"y":-0.22},
 {"s":"π/2","x":0.17,"y":0.1},{"s":"π/2","x":0.19,"y":0.15},{"s":"π/2","x":0.205,"y":-0.02},{"s":"π/2","x":0.225,"y":0.2},{"s":"π/2","x":0.24,"y":-0.02},{"s":"π/2","x":0.265,"y":0.22},{"s":"π/2","x":0.29,"y":-0.02},{"s":"π/2","x":0.32,"y":0.25},{"s":"π/2","x":0.35,"y":0.3},{"s":"π/2","x":0.38,"y":0.15},{"s":"π/2","x":0.41,"y":-0.01},{"s":"π/2","x":0.45,"y":0.15},{"s":"π/2","x":0.49,"y":0.42},{"s":"π/2","x":0.53,"y":0.49},{"s":"π/2","x":0.57,"y":0.38},{"s":"π/2","x":0.62,"y":0.12},{"s":"π/2","x":0.67,"y":0.0},{"s":"π/2","x":0.72,"y":0.08},{"s":"π/2","x":0.8,"y":0.3},{"s":"π/2","x":0.88,"y":0.43},{"s":"π/2","x":1.0,"y":0.5},{"s":"π/2","x":1.1,"y":0.55},{"s":"π/2","x":1.17,"y":0.57},{"s":"π/2","x":1.25,"y":0.55},{"s":"π/2","x":1.32,"y":0.5},{"s":"π/2","x":1.4,"y":0.42},{"s":"π/2","x":1.5,"y":0.31},{"s":"π/2","x":1.6,"y":0.22},{"s":"π/2","x":1.7,"y":0.14},{"s":"π/2","x":1.8,"y":0.1},{"s":"π/2","x":1.9,"y":0.085},{"s":"π/2","x":2.0,"y":0.09},{"s":"π/2","x":2.1,"y":0.1},{"s":"π/2","x":2.2,"y":0.12},{"s":"π/2","x":2.4,"y":0.145},{"s":"π/2","x":2.6,"y":0.165},{"s":"π/2","x":2.8,"y":0.165},{"s":"π/2","x":3.03,"y":0.155}
]
},
"config": {
 "view": {"stroke": "#111", "strokeWidth": 1.5},
 "axis": {"grid": true, "gridDash": [7, 5], "gridColor": "#3c3c3c", "gridWidth": 1, "gridOpacity": 1, "domain": false, "ticks": false, "labelFont": "Liberation Sans", "labelFontSize": 18, "labelColor": "#222", "titleFont": "Liberation Sans", "titleFontSize": 18, "titleColor": "#222"},
 "axisX": {"format": "~g", "labelPadding": 4, "titleFontWeight": "normal", "titlePadding": 5},
 "axisY": {"labelExpr": "datum.value == 0 ? '0' : datum.value == 1 ? '1' : ''", "labelOffset": 4, "titleFontWeight": "bold"}
}
}
